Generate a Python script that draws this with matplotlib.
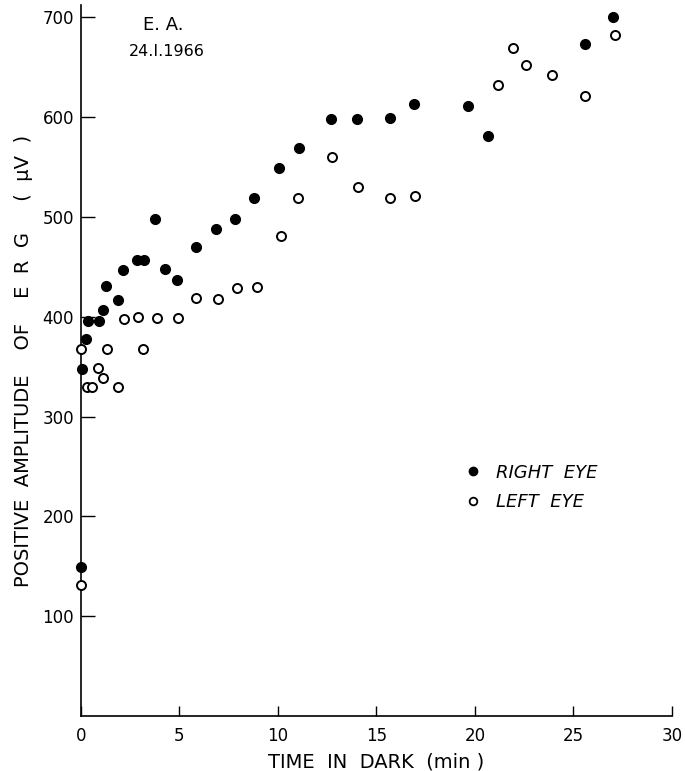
import matplotlib
matplotlib.use("Agg")
import matplotlib.pyplot as plt
from matplotlib.lines import Line2D

# ── data ────────────────────────────────────────────────────────────────────
right_t = [0.0, 0.07, 0.24, 0.34, 0.91, 1.13, 1.27, 1.9, 2.13, 2.83, 3.2,
           3.76, 4.26, 4.86, 5.84, 6.84, 7.82, 8.78, 10.03, 11.07, 12.69,
           13.99, 15.67, 16.92, 19.66, 20.64, 25.6, 27.03]
right_amp = [149, 348, 378, 396, 396, 407, 431, 417, 447, 457, 457,
             498, 448, 437, 470, 488, 498, 519, 549, 569, 598,
             598, 599, 613, 611, 581, 673, 700]

left_t = [0.0, 0.0, 0.29, 0.57, 0.85, 1.13, 1.3, 1.9, 2.2, 2.9, 3.16,
          3.84, 4.92, 5.85, 6.95, 7.93, 8.92, 10.15, 11.03, 12.74, 14.08,
          15.69, 16.95, 21.15, 21.95, 22.6, 23.9, 25.6, 27.1]
left_amp = [131, 368, 330, 330, 349, 339, 368, 330, 398, 400, 368,
            399, 399, 419, 418, 429, 430, 481, 519, 560, 530,
            519, 521, 632, 669, 652, 642, 621, 682]

x_ticks = [0, 5, 10, 15, 20, 25, 30]
y_ticks = [100, 200, 300, 400, 500, 600, 700]

plt.rcParams["font.family"] = ["DejaVu Sans"]

fig = plt.figure(figsize=(6.85, 7.71), dpi=100, facecolor="white")
ax = fig.add_axes([0.1182, 0.0713, 0.8628, 0.922])

ax.plot(right_t, right_amp, "o", color="black", markersize=7,
        linestyle="none", clip_on=False, zorder=3)
ax.plot(left_t, left_amp, "o", markerfacecolor="white",
        markeredgecolor="black", markeredgewidth=1.4, markersize=6.5,
        linestyle="none", clip_on=False, zorder=3)

ax.set_xlim(0, 30)
ax.set_ylim(0, 712)
ax.set_xticks(x_ticks)
ax.set_yticks(y_ticks)
ax.tick_params(axis="x", direction="in", length=7, width=1, pad=8,
               labelsize=12)
ax.tick_params(axis="y", direction="in", length=10, width=1, pad=5,
               labelsize=12)
ax.spines[["top", "right"]].set_visible(False)
for s in ["left", "bottom"]:
    ax.spines[s].set_linewidth(1.2)

ax.set_xlabel("TIME  IN  DARK  (min )", fontsize=14, labelpad=5)
ax.set_ylabel("POSITIVE  AMPLITUDE    OF    E  R  G     (  μV  )",
              fontsize=14, labelpad=7)

ax.text(0.14, 0.985, "E. A.", transform=ax.transAxes, ha="center",
        va="top", fontsize=13)
ax.text(0.145, 0.945, "24.I.1966", transform=ax.transAxes, ha="center",
        va="top", fontsize=11.5)

handles = [
    Line2D([], [], marker="o", color="black", linestyle="none",
           markersize=6),
    Line2D([], [], marker="o", markerfacecolor="white",
           markeredgecolor="black", markeredgewidth=1.3, linestyle="none",
           markersize=5.5),
]
ax.legend(handles, ["RIGHT  EYE", "LEFT  EYE"], loc="upper left",
          bbox_to_anchor=(0.62, 0.378), frameon=False,
          prop={"style": "italic", "size": 13}, handletextpad=0.8,
          labelspacing=0.65, handlelength=1.0)

fig.savefig("out.png", dpi=100, facecolor="white")
